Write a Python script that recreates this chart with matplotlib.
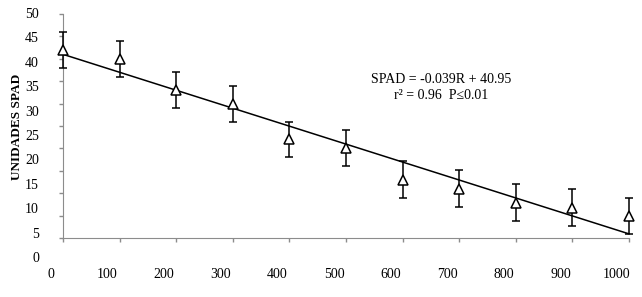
import numpy as np
import matplotlib
matplotlib.use('Agg')
import matplotlib.pyplot as plt

plt.rcParams['font.family'] = ['Liberation Serif', 'DejaVu Serif']
plt.rcParams['font.size'] = 10

# radiacion R (eje x) y unidades SPAD
radiacion = [0, 100, 200, 300, 400, 500, 600, 700, 800, 900, 1000]
spad = [42.0, 40.0, 33.0, 30.0, 22.0, 20.0, 13.0, 11.0, 7.9, 6.8, 4.85]
desvio = [4.0, 4.0, 4.0, 4.0, 4.0, 4.0, 4.1, 4.1, 4.1, 4.1, 4.05]

x_ticks = [0, 100, 200, 300, 400, 500, 600, 700, 800, 900, 1000]
y_ticks = [0, 5, 10, 15, 20, 25, 30, 35, 40, 45, 50]
ecuacion = 'SPAD = -0.039R + 40.95\nr\u00b2 = 0.96  P\u22640.01'

gris = '#8c8c8c'

f = plt.figure(figsize=(6.42, 2.97), dpi=100)

# etiquetas de los ejes (desplazadas como en el original)
lab = f.add_axes([0.07944, 0.13468, 0.88162, 0.82155])
lab.set_xlim(0, 1000)
lab.set_ylim(0, 50)
lab.set_xticks(x_ticks)
lab.set_yticks(y_ticks)
lab.tick_params(length=0, labelsize=10, colors='black')
lab.tick_params(axis='y', pad=8.6)
lab.tick_params(axis='x', pad=7.9)
for s in lab.spines.values():
    s.set_visible(False)
lab.patch.set_alpha(0)

axs = f.add_axes([0.09813, 0.19865, 0.88162, 0.75421])
axs.patch.set_alpha(0)
axs.set_xlim(0, 1000)
axs.set_ylim(0, 50)
axs.set_xticks(x_ticks)
axs.set_yticks(y_ticks)
axs.tick_params(direction='out', length=3, width=1, color=gris,
                labelleft=False, labelbottom=False)
axs.spines['top'].set_visible(False)
axs.spines['right'].set_visible(False)
axs.spines['left'].set_color(gris)
axs.spines['bottom'].set_color(gris)

# recta de regresion
m, b = np.polyfit(radiacion, spad, 1)
xr = np.array([radiacion[0], radiacion[-1]])
axs.plot(xr, m * xr + b, c='black', lw=1.1, clip_on=False, zorder=2)

axs.errorbar(radiacion, spad, yerr=desvio, fmt='none', ecolor='black',
             elinewidth=1.1, capsize=3.2, capthick=1.1, clip_on=False, zorder=3)
axs.plot(radiacion, spad, ls='none', marker='^', ms=7.5, mfc='white',
         mec='black', mew=1.1, clip_on=False, zorder=4)

axs.text(0.668, 0.672, ecuacion, transform=axs.transAxes, ha='center',
         va='center', multialignment='center', fontsize=10, linespacing=1.25)

f.text(0.026, 0.573, 'UNIDADES SPAD', rotation=90, ha='center', va='center',
       fontsize=9.5, fontweight='bold')

plt.savefig('out.png', dpi=100)
